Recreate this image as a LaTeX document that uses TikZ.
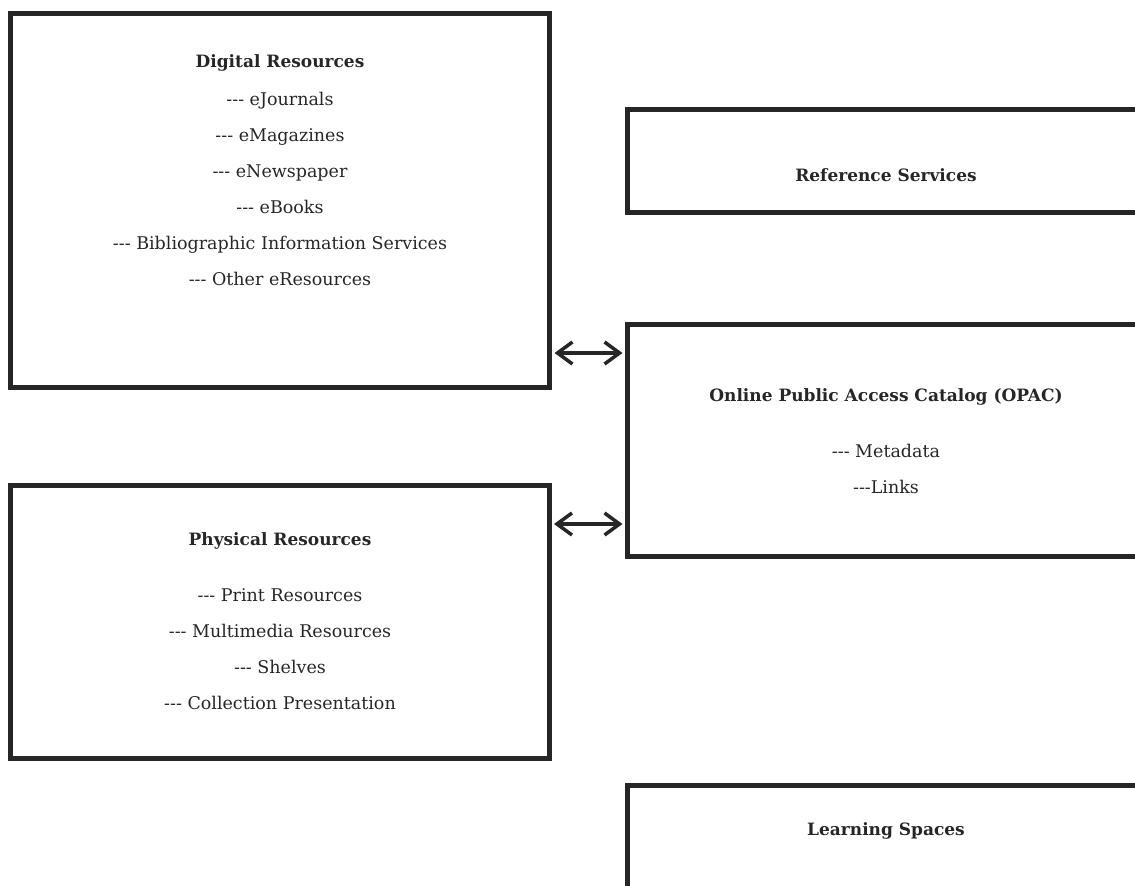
\documentclass[tikz,border=0pt]{standalone}
\usepackage{fontspec}
\newfontfamily\diagfont{DejaVu Serif}
\usetikzlibrary{positioning, arrows.meta}

\begin{document}
\begin{tikzpicture}[x=1pt, y=-1pt]
		% Styles
		\tikzset{
			box/.style={draw=black!85, line width=5pt, minimum width=539pt, inner sep=0pt},
			rbox/.style={box, minimum width=517pt},
			boxtext/.style={align=center, font=\diagfont\fontsize{17.5}{36}\selectfont, text=black!85},
			arrow/.style={{Straight Barb[length=15pt, width=22pt, line width=3.5pt]}-{Straight Barb[length=15pt, width=22pt, line width=3.5pt]}, line width=3.5pt, draw=black!85}
		}
		\newcommand{\boxtitle}[1]{{\fontsize{17}{36}\selectfont\bfseries #1}}
		
		% Page frame
		\useasboundingbox (0,0) rectangle (1135,886);
		\clip (0,0) rectangle (1135,886);
		
		% Left: digital resources
		\node[box, minimum height=374pt] (Digital) at (280, 200.5) {};
		\node[boxtext] (Digital_Text) at (280, 170.5) {
			\boxtitle{Digital Resources} \\[2pt]
			--- eJournals \\
			--- eMagazines \\
			--- eNewspaper \\
			--- eBooks \\
			--- Bibliographic Information Services \\
			--- Other eResources
		};
		
		% Left: physical resources
		\node[box, minimum height=272.5pt] (Physical) at (279.5, 621.75) {};
		\node[boxtext] (Physical_Text) at (280, 621.5) {
			\boxtitle{Physical Resources} \\[20pt]
			--- Print Resources \\
			--- Multimedia Resources \\
			--- Shelves \\
			--- Collection Presentation
		};
		
		% Right: reference services
		\node[rbox, minimum height=103pt] (Reference) at (886, 161) {};
		\node[boxtext] (Reference_Text) at (886, 175) {\boxtitle{Reference Services}};
		
		% Right: OPAC
		\node[rbox, minimum height=232pt] (OPAC) at (886, 440.5) {};
		\node[boxtext] (OPAC_Text) at (886, 441) {
			\boxtitle{Online Public Access Catalog (OPAC)} \\[20pt]
			--- Metadata \\
			---Links
		};
		
		% Right: learning spaces
		\node[rbox, minimum height=205pt] (Learning) at (886, 888) {};
		\node[boxtext] (Learning_Text) at (886, 831) {\boxtitle{Learning Spaces}};
		
		% Arrows between the left boxes and OPAC
		\draw[arrow, shorten <=2.5pt, shorten >=2.5pt] (Digital.east |- 0,353) -- (OPAC.west |- 0,353);
		\draw[arrow, shorten <=2.5pt, shorten >=2.5pt] (Physical.east |- 0,524) -- (OPAC.west |- 0,524);
		
	\end{tikzpicture}
\end{document}
